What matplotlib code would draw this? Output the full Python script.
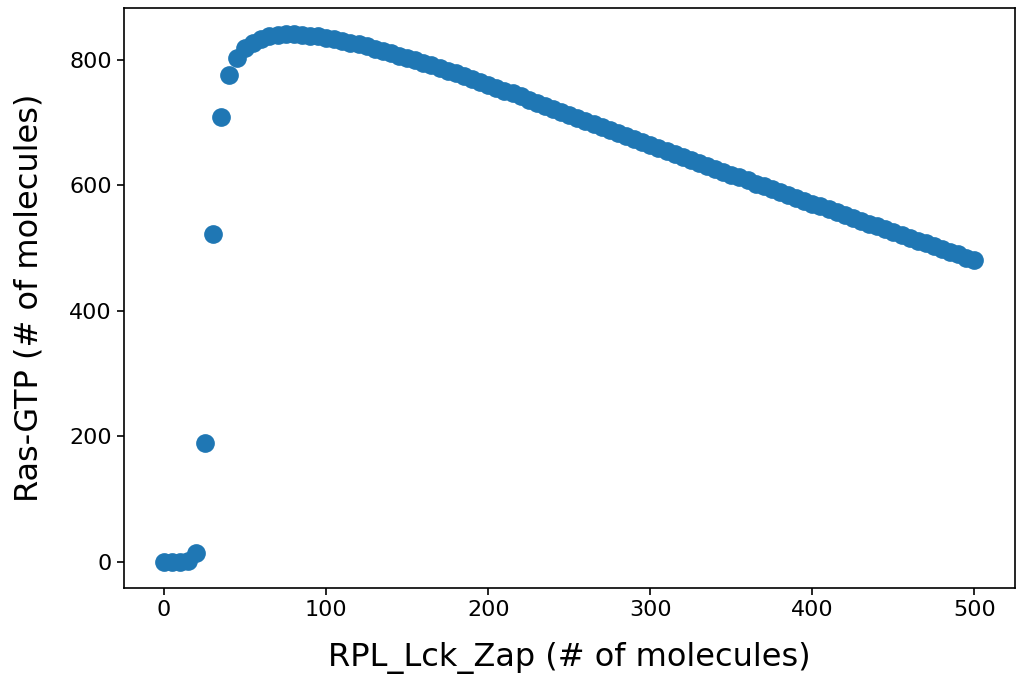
import matplotlib
matplotlib.use("Agg")
import matplotlib.pyplot as plt

x_values = list(range(0, 505, 5))
ras_gtp = [
    0, 0, 0, 1, 13, 190, 522, 710, 776, 803,
    820, 828, 834, 838, 840, 841, 841, 840, 839, 838,
    836, 834, 831, 828, 825, 822, 818, 815, 811, 807,
    804, 800, 796, 792, 787, 783, 779, 774, 770, 765,
    761, 756, 751, 747, 742, 737, 732, 727, 722, 718,
    713, 708, 703, 698, 693, 689, 684, 679, 674, 669,
    665, 660, 655, 650, 646, 641, 636, 631, 627, 622,
    617, 613, 608, 603, 599, 594, 589, 585, 580, 576,
    571, 567, 562, 557, 553, 548, 544, 539, 535, 530,
    526, 521, 517, 512, 508, 503, 499, 494, 490, 485,
    481,
]

fig = plt.figure(figsize=(10.16, 6.81), dpi=100)
ax = fig.add_axes([0.1216, 0.1366, 0.8774, 0.8516])
ax.scatter(x_values, ras_gtp, s=155, color="#1f77b4")
ax.set_xlabel("RPL_Lck_Zap (# of molecules)", fontsize=23, labelpad=16)
ax.set_ylabel("Ras-GTP (# of molecules)", fontsize=23, labelpad=18)
ax.tick_params(labelsize=16, length=5, width=1.2)
for sp in ax.spines.values():
    sp.set_linewidth(1.2)
fig.savefig("out.png", dpi=100)
